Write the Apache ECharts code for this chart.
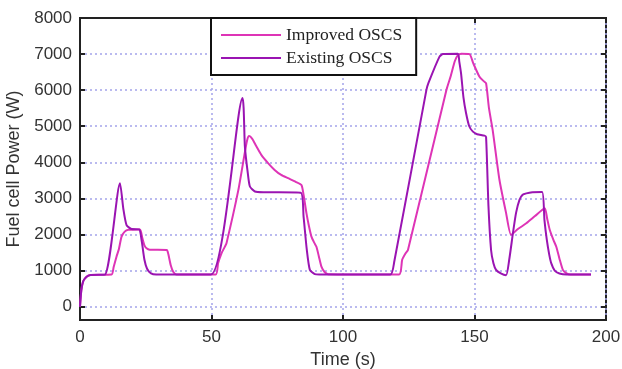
<!DOCTYPE html>
<html>
<head>
<meta charset="utf-8">
<script src="https://cdn.jsdelivr.net/npm/echarts@6/dist/echarts.min.js"></script>
<style>
  html, body { margin: 0; padding: 0; background: #fff; }
  #chart { width: 622px; height: 369px; }
</style>
</head>
<body>
<div id="chart"></div>
<script>
// fuel cell power vs time, improved vs existing OSCS

var improvedTime = [0, 0.5, 1.2, 2.5, 4, 12, 12.8, 13.9, 14.8, 15.8, 17, 18.4, 22.8, 23.7, 24.5, 25.3, 26.5, 33, 33.6, 34.5, 35.5, 36.7,
    51.6, 52.5, 53.8, 55, 55.7, 60.2, 62.5, 63.5, 64.3, 65.5, 67, 69, 71.5, 74, 76.5, 79.1, 82, 84.2, 85, 86.1, 87, 88, 89, 89.9, 90.8, 91.8, 93, 94.3,
    121.3, 122.5, 123.8, 124.7, 139.3, 141, 142.5, 143.7, 145, 148.1, 149.5, 151.9, 153.5, 154.4, 155.5, 156.9, 159.5, 162, 163.9,
    166.5, 169.7, 173, 176.7, 177.6, 178.6, 180, 181.1, 182.3, 183.6, 185, 186.5, 194.3];
var improvedPower = [0, 450, 700, 830, 880, 890, 1100, 1390, 1600, 1940, 2080, 2130, 2140, 1900, 1700, 1620, 1580, 1570, 1450, 1150, 960, 890,
    890, 1200, 1480, 1650, 1760, 3230, 4200, 4600, 4730, 4650, 4450, 4200, 3980, 3790, 3650, 3560, 3460, 3370, 3100, 2590, 2250, 1940, 1780, 1660, 1400, 1110, 960, 900,
    890, 1300, 1480, 1570, 6000, 6400, 6800, 6970, 7010, 7000, 6750, 6370, 6250, 6190, 5500, 4900, 3510, 2600, 1990,
    2150, 2310, 2510, 2730, 2450, 2130, 1850, 1660, 1330, 1020, 920, 890, 890];

var existingTime = [0, 0.5, 1.2, 2.5, 4, 9.5, 15.2, 16.5, 17.7, 19.6, 22.5, 23.5, 24.5, 25.5, 27, 29,
    49.8, 61.8, 62.7, 63.8, 64.6, 66.5, 70, 83.9, 85, 86.2, 87.4, 89.3, 91,
    118, 119.5, 131.7, 132.5, 136.7, 138, 143.7, 144.2, 144.9, 145.8, 146.8, 148, 149.4, 151, 153.8, 154.4, 155.3, 156.3, 157.2, 158.2, 160, 162,
    163.2, 164.6, 165.8, 167.1, 168.3, 169.7, 172, 175.7, 176.6, 177.5, 178.4, 179.2, 180.5, 182.3, 185, 194.3];
var existingPower = [0, 450, 700, 830, 880, 890, 3420, 2700, 2260, 2150, 2140, 1800, 1300, 1050, 920, 890,
    890, 5780, 4430, 3700, 3330, 3190, 3170, 3160, 2500, 1600, 1020, 900, 890,
    890, 1250, 6000, 6200, 6930, 7000, 7010, 6800, 6460, 5800, 5360, 5000, 4850, 4780, 4740, 4700, 2800, 1570, 1200, 1020, 920, 870,
    1300, 2030, 2600, 2960, 3100, 3140, 3170, 3180, 2400, 1850, 1450, 1200, 1000, 920, 890, 890];

var yTicks = [0, 1000, 2000, 3000, 4000, 5000, 6000, 7000, 8000];
var yGridTicks = [0, 1000, 2000, 3000, 4000, 5000, 6000, 7000];

function zip(xs, ys) {
    var out = [];
    for (var i = 0; i < xs.length; i++) out.push([xs[i], ys[i]]);
    return out;
}

var gridLine = {
    show: true,
    lineStyle: { color: '#a4a4ea', width: 1.5, type: [2, 3] }
};
var labelFont = { fontFamily: 'Liberation Sans', fontSize: 17, color: '#333' };
var plain = function (v) { return String(v); };

var option = {
    animation: false,
    backgroundColor: '#fff',
    grid: {
        left: 80, top: 18, right: 16, bottom: 49,
        outerBoundsMode: 'none',
        containLabel: false,
        show: true, borderColor: '#222', borderWidth: 2
    },
    legend: {
        orient: 'vertical',
        left: 211, top: 18,
        data: ['Improved OSCS', 'Existing OSCS'],
        icon: 'rect',
        itemWidth: 60, itemHeight: 2,
        itemGap: 5,
        padding: [8, 14, 8, 10],
        backgroundColor: '#fff',
        borderColor: '#111', borderWidth: 2,
        textStyle: { fontFamily: 'Liberation Serif', fontSize: 17.5, color: '#222' }
    },
    xAxis: [{
        type: 'value', min: 0, max: 200, interval: 50,
        name: 'Time (s)', nameLocation: 'middle', nameGap: 30,
        nameTextStyle: { fontFamily: 'Liberation Sans', fontSize: 18, color: '#333' },
        axisLine: { show: true, onZero: false, lineStyle: { color: '#222', width: 2 } },
        axisTick: { show: true, inside: true, length: 5, lineStyle: { color: '#222', width: 2 } },
        axisLabel: Object.assign({ margin: 9, formatter: plain }, labelFont),
        splitLine: gridLine
    }, {
        type: 'value', position: 'top', min: 0, max: 200, interval: 50,
        axisLine: { show: false, onZero: false },
        axisTick: { show: true, inside: true, length: 5, lineStyle: { color: '#222', width: 2 } },
        axisLabel: { show: false },
        splitLine: { show: false }
    }],
    yAxis: [{
        type: 'value', min: -370, max: 8000,
        name: 'Fuel cell Power (W)', nameLocation: 'middle', nameGap: 53,
        nameTextStyle: { fontFamily: 'Liberation Sans', fontSize: 18, color: '#333' },
        axisLine: { show: true, onZero: false, lineStyle: { color: '#222', width: 2 } },
        axisTick: { show: true, inside: true, length: 5, customValues: yGridTicks, lineStyle: { color: '#222', width: 2 } },
        axisLabel: Object.assign({ margin: 8, customValues: yTicks, formatter: plain }, labelFont),
        splitLine: gridLine
    }, {
        type: 'value', position: 'right', min: -370, max: 8000,
        axisLine: { show: false, onZero: false },
        axisTick: { show: true, inside: true, length: 5, customValues: yGridTicks, lineStyle: { color: '#222', width: 2 } },
        axisLabel: { show: false },
        splitLine: { show: false }
    }],
    series: [{
        name: 'Improved OSCS',
        type: 'line',
        data: zip(improvedTime, improvedPower),
        showSymbol: false,
        smooth: 0.2,
        lineStyle: { color: '#de34b6', width: 2 },
        itemStyle: { color: '#de34b6' }
    }, {
        name: 'Existing OSCS',
        type: 'line',
        data: zip(existingTime, existingPower),
        showSymbol: false,
        smooth: 0.2,
        lineStyle: { color: '#9a14b2', width: 2 },
        itemStyle: { color: '#9a14b2' }
    }]
};

var myChart = echarts.init(document.getElementById('chart'));
myChart.setOption(option);
</script>
</body>
</html>
